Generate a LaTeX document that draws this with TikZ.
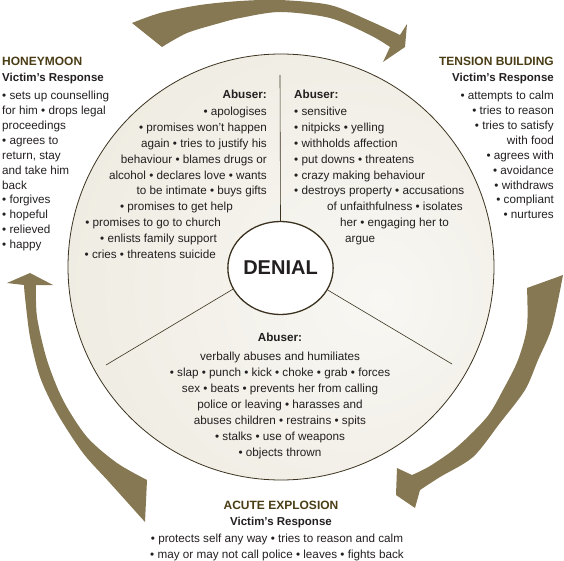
\documentclass[tikz,border=0pt]{standalone}
\usepackage{fontspec}
\setmainfont{Liberation Sans}
\usetikzlibrary{shapes.geometric}
\definecolor{arrowbrown}{HTML}{857853}
\definecolor{rimbrown}{HTML}{3B3320}
\definecolor{phasebrown}{HTML}{4A3D15}
\definecolor{inktext}{HTML}{231F20}
\definecolor{discin}{HTML}{F8F7F3}
\definecolor{discout}{HTML}{E3DDCC}
\pgfdeclareradialshading{discshade}{\pgfpoint{12bp}{-4bp}}{color(0bp)=(discin); color(30bp)=(discin!60!discout); color(62bp)=(discout)}

\begin{document}
\begin{tikzpicture}[x=1pt, y=-1pt]
  \tikzset{every node/.style={inner sep=0pt, text=inktext},
           item/.style={font=\fontsize{11.7}{14}\selectfont},
           abuser/.style={font=\fontsize{11.7}{14}\selectfont\bfseries},
           phase/.style={font=\fontsize{12}{14}\selectfont\bfseries, text=phasebrown},
           response/.style={font=\fontsize{11.5}{14}\selectfont\bfseries},
           band/.style={fill=arrowbrown},
           spoke/.style={draw=rimbrown, line width=0.6pt},
           wheel/.style={circle, minimum size=426pt, shade, shading=discshade,
                         draw=rimbrown, line width=0.8pt},
           denialdisc/.style={ellipse, minimum width=103pt, minimum height=93pt,
                              fill=white, draw=rimbrown, line width=1.3pt,
                              font=\fontsize{20}{24}\selectfont\bfseries}}
  \useasboundingbox (0,0) rectangle (564,561);

  % the three arrows round the wheel
  \fill[band] plot[smooth] coordinates {(132,23) (160,13) (200,5) (240,1) (280,0) (330,5) (370,21) (400,35)}
    -- (407,24) -- (405,47) -- (383,62) -- (390,47)
    -- plot[smooth] coordinates {(390,47) (370,35) (330,18) (280,12) (240,18) (220,23) (187,33) (162,47)} -- cycle;
  \fill[band] plot[smooth] coordinates {(563,275) (552,327) (538,360) (525,390) (500,423) (473,457) (440,477) (420,490)}
    -- (415,508) -- (396,495) -- (397,468) -- (412,475)
    -- plot[smooth] coordinates {(412,475) (430,466) (457,447) (487,417) (503,390) (518,360) (527,327) (527,288)} -- cycle;
  \fill[band] plot[smooth] coordinates {(145,522) (110,483) (83,453) (57,413) (40,377) (30,337) (25,297) (24,285)}
    -- (7,283) -- (30,273) -- (53,285) -- (36,285)
    -- plot[smooth] coordinates {(36,285) (37,317) (47,360) (63,400) (87,437) (117,463) (147,480)} -- cycle;

  % wheel, spokes, centre
  \node[wheel] (wheel) at (281,267) {};
  \node[denialdisc] (denial) at (280.5,268) {DENIAL};
  \coordinate (topend) at (280,75);
  \coordinate (leftend) at (106,365);
  \coordinate (rightend) at (452,364);
  \draw[spoke] (denial.north) -- (topend);
  \draw[spoke] (denial.204) -- (leftend);
  \draw[spoke] (denial.335) -- (rightend);

  % honeymoon
  \node[phase, anchor=base west] (honey) at (2,65.5) {HONEYMOON};
  \node[response, anchor=base west] (honeyresp) at (2,81.5) {Victim’s Response};
  \foreach \t [count=\i] in {{• sets up counselling}, {for him • drops legal}, {proceedings},
      {• agrees to}, {return, stay}, {and take him}, {back}, {• forgives},
      {• hopeful}, {• relieved}, {• happy}}
    \node[item, anchor=base west] (honey\i) at (2,{100+14.85*(\i-1)}) {\t};

  % tension building
  \node[phase, anchor=base east] (tension) at (554,65.5) {TENSION BUILDING};
  \node[response, anchor=base east] (tensionresp) at (554,81.5) {Victim’s Response};
  \foreach \t [count=\i] in {{• attempts to calm}, {• tries to reason}, {• tries to satisfy},
      {with food}, {• agrees with}, {• avoidance}, {• withdraws}, {• compliant}, {• nurtures}}
    \node[item, anchor=base east] (tension\i) at (554,{100+14.85*(\i-1)}) {\t};

  % abuser, honeymoon sector
  \node[abuser, anchor=base east] (abhoney) at (267,99) {Abuser:};
  \foreach \x/\t [count=\i] in {267/{• apologises}, 267/{• promises won’t happen},
      267/{again • tries to justify his}, 267/{behaviour • blames drugs or},
      267/{alcohol • declares love • wants}, 267/{to be intimate • buys gifts},
      233/{• promises to get help}, 221/{• promises to go to church},
      217/{• enlists family support}, 216/{• cries • threatens suicide}}
    \node[item, anchor=base east] (abhoney\i) at (\x,{116+15.8*(\i-1)}) {\t};

  % abuser, tension sector
  \node[abuser, anchor=base west] (abtension) at (294,99) {Abuser:};
  \foreach \x/\t [count=\i] in {294/{• sensitive}, 294/{• nitpicks • yelling},
      294/{• withholds affection}, 294/{• put downs • threatens},
      294/{• crazy making behaviour}, 294/{• destroys property • accusations},
      327/{of unfaithfulness • isolates}, 340/{her • engaging her to}, 345/{argue}}
    \node[item, anchor=base west] (abtension\i) at (\x,{116+15.8*(\i-1)}) {\t};

  % abuser, explosion sector
  \node[abuser, anchor=base] (abacute) at (280,341) {Abuser:};
  \foreach \t [count=\i] in {{verbally abuses and humiliates},
      {• slap • punch • kick • choke • grab • forces},
      {sex • beats • prevents her from calling}, {police or leaving • harasses and},
      {abuses children • restrains • spits}, {• stalks • use of weapons}, {• objects thrown}}
    \node[item, anchor=base] (abacute\i) at (280,{360+16*(\i-1)}) {\t};

  % acute explosion
  \node[phase, anchor=base] (acute) at (281,509.5) {ACUTE EXPLOSION};
  \node[response, anchor=base] (acuteresp) at (281,525.5) {Victim’s Response};
  \node[item, anchor=base] (acute1) at (277,542) {• protects self any way • tries to reason and calm};
  \node[item, anchor=base] (acute2) at (277,558) {• may or may not call police • leaves • fights back};
\end{tikzpicture}
\end{document}
